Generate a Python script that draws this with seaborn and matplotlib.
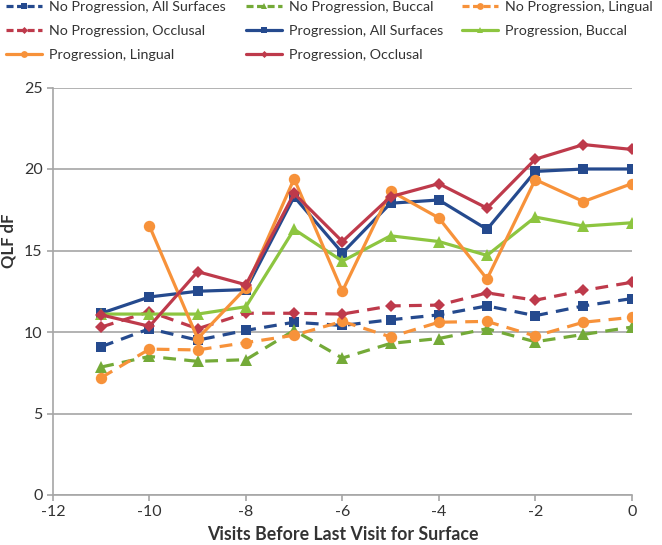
import matplotlib
matplotlib.use("Agg")
import matplotlib.pyplot as plt
import seaborn as sns
import numpy as np
import pandas as pd

visits = [-11, -10, -9, -8, -7, -6, -5, -4, -3, -2, -1, 0]

np_all = [9.1, 10.2, 9.5, 10.1, 10.6, 10.4, 10.75, 11.05, 11.6, 11.0, 11.6, 12.05]
np_buccal = [7.85, 8.5, 8.2, 8.3, 10.1, 8.4, 9.3, 9.6, 10.2, 9.4, 9.85, 10.3]
np_lingual = [7.2, 8.95, 8.9, 9.35, 9.8, 10.65, 9.7, 10.6, 10.65, 9.75, 10.6, 10.9]
np_occlusal = [10.3, 11.25, 10.2, 11.15, 11.15, 11.1, 11.6, 11.65, 12.4, 11.95, 12.55, 13.05]
p_all = [11.15, 12.15, 12.5, 12.6, 18.3, 14.85, 17.9, 18.1, 16.3, 19.85, 20.0, 20.0]
p_buccal = [11.1, 11.1, 11.1, 11.55, 16.3, 14.35, 15.9, 15.55, 14.7, 17.05, 16.5, 16.7]
p_lingual = [np.nan, 16.5, 9.6, 12.7, 19.4, 12.5, 18.65, 17.0, 13.25, 19.35, 18.0, 19.1]
p_occlusal = [11.05, 10.35, 13.7, 12.9, 18.5, 15.55, 18.3, 19.1, 17.6, 20.6, 21.5, 21.2]

labels = [
    "No Progression, All Surfaces", "No Progression, Buccal", "No Progression, Lingual",
    "No Progression, Occlusal", "Progression, All Surfaces", "Progression, Buccal",
    "Progression, Lingual", "Progression, Occlusal",
]
values = [np_all, np_buccal, np_lingual, np_occlusal, p_all, p_buccal, p_lingual, p_occlusal]

x_ticks = [-12, -10, -8, -6, -4, -2, 0]
y_ticks = [0, 5, 10, 15, 20, 25]

NAVY = "#254A8E"
GREEN_D = "#74AA38"
GREEN_S = "#8DC540"
ORANGE = "#F7923A"
RED = "#BE3A4B"
TXT = "#333333"

styles = {
    "No Progression, All Surfaces": dict(color=NAVY, marker="s", ms=7.5, dashed=True),
    "No Progression, Buccal": dict(color=GREEN_D, marker="^", ms=8, dashed=True),
    "No Progression, Lingual": dict(color=ORANGE, marker="o", ms=8.2, dashed=True),
    "No Progression, Occlusal": dict(color=RED, marker="D", ms=6, dashed=True),
    "Progression, All Surfaces": dict(color=NAVY, marker="s", ms=7.5, dashed=False),
    "Progression, Buccal": dict(color=GREEN_S, marker="^", ms=8, dashed=False),
    "Progression, Lingual": dict(color=ORANGE, marker="o", ms=8.2, dashed=False),
    "Progression, Occlusal": dict(color=RED, marker="D", ms=6, dashed=False),
}

sns.set_theme(style="white")
plt.rcParams["font.family"] = ["Lato", "DejaVu Sans"]

W, H = 662, 545
fig = plt.figure(figsize=(W / 100, H / 100), dpi=100)
ax_l, ax_r, ax_b, ax_t = 53, 631.7, 495, 87.5
ax = fig.add_axes([ax_l / W, (H - ax_b) / H, (ax_r - ax_l) / W, (ax_b - ax_t) / H])

for lab, vals in zip(labels, values):
    st = styles[lab]
    df = pd.DataFrame({"x": visits, "y": vals}).dropna()
    ls = (0, (4, 2.6)) if st["dashed"] else "-"
    sns.lineplot(data=df, x="x", y="y", ax=ax, color=st["color"], marker=st["marker"],
                 markersize=st["ms"], markeredgewidth=0, linewidth=2.3, linestyle=ls,
                 legend=False)

ax.set_xlim(-12, 0)
ax.set_ylim(0, 25)
ax.set_xticks(x_ticks)
ax.set_yticks(y_ticks)
ax.set_xticklabels([str(t) for t in x_ticks], fontsize=11.5, color=TXT)
ax.set_yticklabels([str(t) for t in y_ticks], fontsize=11.5, color=TXT)
ax.grid(axis="y", color="#A6A6A6", linewidth=1.2)
ax.set_axisbelow(True)
for side in ["top", "right"]:
    ax.spines[side].set_visible(False)
for side in ["left", "bottom"]:
    ax.spines[side].set_color("#A6A6A6")
    ax.spines[side].set_linewidth(1.2)
ax.tick_params(axis="both", which="major", length=4, width=1.2, color="#A6A6A6",
               direction="out", bottom=True, left=True, pad=3.5)
ax.set_xlabel("Visits Before Last Visit for Surface", fontsize=12.8, fontweight="bold",
              color=TXT, labelpad=5)
ax.set_ylabel("QLF dF", fontsize=12, fontweight="bold", color=TXT)
ax.yaxis.set_label_coords((17 - ax_l) / (ax_r - ax_l), (ax_b - 241) / (ax_b - ax_t))


def handle(lab):
    st = styles[lab]
    return plt.Line2D([], [], color=st["color"], marker=st["marker"],
                      markersize=st["ms"] * 0.6, markeredgewidth=0, linewidth=2.3,
                      linestyle=(0, (2.2, 1.1)) if st["dashed"] else "-")


columns = [
    (6, [labels[0], labels[3], labels[6]]),
    (246, [labels[1], labels[4], labels[7]]),
    (462, [labels[2], labels[5]]),
]
for xpx, labs in columns:
    fig.legend([handle(l) for l in labs], labs, loc="upper left",
               bbox_to_anchor=(xpx / W, 1.0 - 1.0 / H), frameon=False, fontsize=10.3,
               handlelength=2.5, handletextpad=0.5, labelspacing=0.85,
               borderaxespad=0, borderpad=0, labelcolor=TXT)

fig.savefig("out.png", dpi=100)
